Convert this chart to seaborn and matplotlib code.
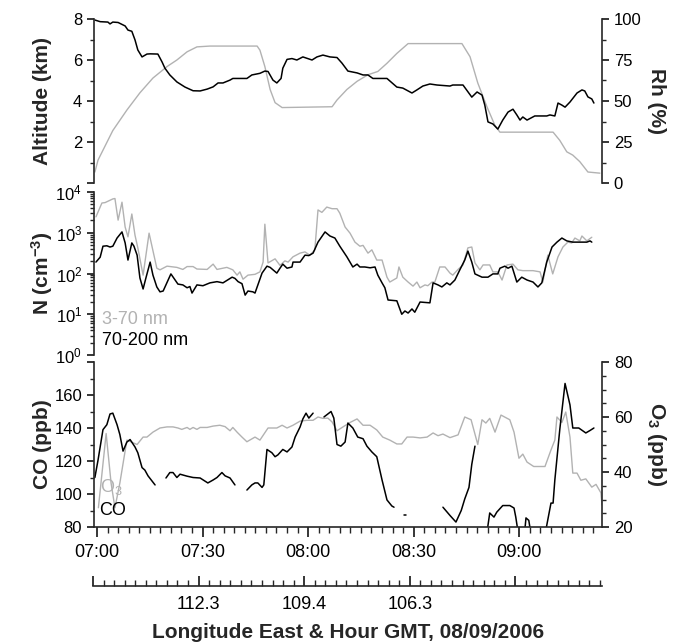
import numpy as np
import pandas as pd
import matplotlib
matplotlib.use("Agg")
import matplotlib.pyplot as plt
import seaborn as sns
from matplotlib.ticker import FixedLocator, MultipleLocator, FixedFormatter, NullFormatter, LogLocator

sns.set_style("ticks")
plt.rcParams["font.family"] = ["Liberation Sans", "DejaVu Sans"]
plt.rcParams["mathtext.default"] = "regular"

# ---------------- data (time in minutes after 07:00 GMT) ----------------
altitude_km = [(-0.6, 7.95), (0.9, 7.87), (3.1, 7.85), (3.7, 7.76), (4.5, 7.85), (6.0, 7.83), (8.0, 7.66),
               (8.8, 7.46), (9.9, 7.40), (10.8, 6.98), (11.6, 6.49), (12.8, 6.15), (14.2, 6.29), (15.1, 6.30),
               (17.3, 6.29), (18.5, 5.90), (19.3, 5.60), (20.7, 5.27), (22.7, 4.93), (25.0, 4.68), (27.3, 4.50),
               (29.3, 4.49), (31.3, 4.58), (33.0, 4.69), (34.4, 4.88), (35.8, 4.88), (37.8, 5.02), (38.6, 5.10),
               (42.6, 5.10), (44.0, 5.27), (46.3, 5.35), (47.7, 5.46), (48.6, 5.44), (50.0, 5.02), (51.1, 4.88),
               (52.3, 5.10), (52.8, 5.60), (54.0, 6.03), (55.4, 6.07), (56.8, 6.00), (58.5, 6.15), (61.1, 6.00),
               (62.5, 6.15), (64.2, 6.24), (66.2, 6.15), (68.2, 6.12), (69.6, 5.85), (71.3, 5.46), (73.9, 5.37),
               (75.6, 5.27), (77.0, 5.27), (78.4, 5.10), (82.4, 5.10), (85.2, 4.68), (86.9, 4.63), (89.5, 4.39),
               (90.9, 4.54), (92.6, 4.73), (94.6, 4.83), (96.6, 4.78), (100.3, 4.73), (101.1, 4.78), (104.0, 4.78),
               (106.5, 4.19), (108.0, 4.44), (109.4, 4.29), (110.2, 3.80), (111.1, 2.98), (112.5, 2.88),
               (113.9, 2.63), (115.3, 3.07), (116.8, 3.46), (118.2, 3.60), (119.3, 3.32), (120.2, 3.07),
               (121.0, 3.22), (122.2, 3.07), (124.4, 3.27), (127.8, 3.27), (128.7, 3.32), (130.1, 3.27),
               (131.0, 3.90), (132.1, 3.80), (133.0, 3.70), (134.4, 3.95), (136.4, 4.39), (137.8, 4.54),
               (138.6, 4.49), (139.5, 4.20), (140.6, 4.10), (141.2, 3.90)]

rh_pct = [(-0.6, 6.7), (0.3, 14), (1.7, 20), (4.5, 32), (8.5, 44.5), (12.2, 55), (15.9, 64), (19.9, 71),
          (22.7, 75), (25.6, 80), (28.4, 83), (32.1, 83.5), (45.5, 83.5), (46.3, 81), (47.7, 71), (49.2, 57),
          (50.6, 49), (52.6, 46), (66.8, 46.5), (68.2, 50.6), (71.0, 57), (73.9, 62), (77.0, 66), (79.8, 68),
          (82.4, 73), (85.2, 79), (88.4, 85), (103.7, 85), (106.0, 77), (108.2, 61), (110.8, 46.5),
          (113.1, 35), (114.5, 31), (129.6, 31), (131.5, 26), (133.5, 19), (135.2, 17), (137.2, 13),
          (139.5, 6.7), (142.9, 6)]

# particle number, log10(N / cm-3)
n_3_70_log10 = [(-0.3, 3.39), (1.4, 3.73), (2.3, 3.74), (4.5, 3.83), (5.1, 3.84), (6.0, 3.31), (7.1, 3.75),
                (8.0, 3.14), (8.8, 2.90), (9.9, 3.46), (10.8, 2.94), (11.6, 2.63), (13.1, 1.96), (14.8, 2.99),
                (17.0, 2.13), (17.9, 2.09), (19.9, 2.18), (22.7, 2.15), (24.4, 2.10), (25.6, 2.17), (27.3, 2.17),
                (28.4, 2.11), (31.3, 2.10), (33.0, 2.23), (34.1, 2.10), (36.9, 2.15), (38.6, 2.09), (39.8, 1.96),
                (40.6, 2.04), (41.5, 1.86), (42.9, 1.96), (44.9, 1.98), (46.3, 2.04), (47.2, 2.28), (47.7, 3.21),
                (48.6, 2.26), (50.6, 2.36), (52.0, 2.20), (53.4, 2.31), (54.3, 2.28), (55.7, 2.41), (57.7, 2.50),
                (59.1, 2.53), (60.5, 2.45), (61.9, 2.58), (62.8, 3.56), (63.9, 3.50), (65.3, 3.63), (66.8, 3.59),
                (68.2, 3.59), (69.0, 3.48), (70.5, 3.14), (71.9, 2.99), (73.3, 2.77), (74.7, 2.67), (75.6, 2.69),
                (77.0, 2.50), (78.1, 2.58), (79.5, 2.33), (81.0, 2.33), (82.4, 1.91), (83.2, 1.79), (85.2, 1.89),
                (85.8, 2.16), (86.9, 1.91), (88.4, 1.79), (89.8, 1.69), (90.9, 1.79), (91.8, 1.65), (93.2, 1.72),
                (94.0, 1.70), (95.2, 1.79), (96.0, 1.79), (97.4, 2.16), (98.9, 2.16), (100.3, 2.01), (101.1, 1.96),
                (102.6, 2.10), (104.0, 2.21), (105.4, 2.63), (106.5, 2.65), (107.4, 2.26), (108.8, 2.09),
                (109.7, 2.21), (111.6, 2.21), (112.5, 2.04), (113.9, 2.04), (115.1, 1.84), (116.5, 2.21),
                (118.2, 2.23), (119.6, 2.09), (121.0, 2.07), (123.9, 2.07), (125.9, 2.04), (126.7, 1.79),
                (128.1, 2.45), (129.5, 1.99), (131.0, 2.41), (132.4, 2.65), (133.8, 2.77), (134.9, 2.75),
                (135.8, 2.87), (137.2, 2.80), (137.8, 2.92), (139.2, 2.80), (140.6, 2.89)]

n_70_200_log10 = [(-0.3, 2.28), (0.9, 2.40), (1.7, 2.67), (2.8, 2.68), (3.7, 2.65), (4.5, 2.67), (5.7, 2.87),
                  (7.1, 3.02), (8.0, 2.75), (8.8, 2.33), (9.9, 2.75), (10.5, 2.67), (11.4, 2.45), (12.2, 1.89),
                  (13.1, 1.62), (13.9, 1.89), (15.1, 2.28), (15.9, 1.96), (17.0, 1.67), (17.9, 1.55), (18.8, 1.57),
                  (21.0, 1.99), (22.2, 1.84), (23.0, 1.74), (24.4, 1.72), (25.6, 1.65), (26.4, 1.68), (27.0, 1.52),
                  (28.4, 1.72), (30.1, 1.70), (32.1, 1.77), (34.1, 1.80), (35.8, 1.77), (38.4, 1.91), (39.2, 1.88),
                  (40.1, 1.80), (41.2, 1.75), (42.1, 1.47), (42.9, 1.57), (44.3, 1.55), (44.9, 1.52), (46.9, 2.01),
                  (48.3, 2.18), (49.2, 2.15), (51.1, 2.01), (52.0, 2.13), (52.8, 2.23), (54.0, 2.13), (55.4, 2.16),
                  (55.7, 2.28), (57.7, 2.28), (59.1, 2.45), (60.2, 2.44), (61.4, 2.50), (62.8, 2.77), (64.8, 3.02),
                  (66.2, 2.92), (67.6, 2.87), (69.0, 2.67), (71.0, 2.41), (72.7, 2.16), (73.9, 2.23), (74.7, 2.16),
                  (76.1, 2.16), (77.6, 2.14), (79.0, 2.16), (79.8, 1.96), (81.0, 1.77), (81.8, 1.65), (82.7, 1.35),
                  (85.2, 1.33), (86.6, 1.00), (87.5, 1.08), (88.4, 1.03), (89.5, 1.13), (90.3, 1.05), (91.8, 1.30),
                  (94.6, 1.28), (95.5, 1.77), (96.9, 1.72), (98.0, 1.67), (99.4, 1.77), (100.3, 1.72), (101.7, 1.84),
                  (103.1, 2.09), (104.5, 2.33), (105.4, 2.55), (106.5, 2.28), (107.4, 1.99), (109.4, 1.91),
                  (111.1, 1.91), (112.5, 1.99), (113.9, 1.99), (114.5, 2.13), (115.9, 2.18), (116.8, 2.13),
                  (117.9, 2.18), (119.3, 1.79), (120.7, 1.91), (122.2, 1.84), (123.9, 1.79), (125.3, 1.67),
                  (126.4, 1.77), (127.8, 2.28), (129.3, 2.65), (130.7, 2.77), (132.1, 2.87), (133.5, 2.80),
                  (135.2, 2.77), (137.2, 2.77), (139.2, 2.77), (140.1, 2.80), (140.6, 2.77)]

co_ppb_segments = [
    [(-0.6, 110), (0.3, 120.6), (1.7, 139), (2.8, 142), (3.7, 148.5), (4.5, 149), (5.7, 142), (6.5, 136),
     (7.4, 126), (8.5, 131.5), (9.4, 133), (10.8, 128.5), (11.6, 125), (12.8, 116), (13.6, 114.5), (14.5, 111),
     (16.5, 105.5)],
    [(19.6, 109.7), (20.7, 113), (21.6, 113), (22.7, 110), (23.6, 112), (25.6, 110.8), (27.3, 110), (29.3, 109.7),
     (31.5, 106.7), (33.0, 108.5), (34.1, 110), (35.5, 113), (36.4, 111), (37.8, 109.7), (39.2, 105.5)],
    [(42.6, 102.4), (44.0, 105.5), (44.9, 106.7), (45.7, 106.7), (46.9, 104), (47.4, 105.5), (48.3, 127),
     (49.7, 125), (50.6, 122.6), (51.4, 123.7), (52.8, 127), (54.0, 125.5), (55.4, 128.5), (56.3, 134.5),
     (57.7, 140.6), (58.5, 145.5), (59.4, 149), (60.2, 146), (61.4, 149)],
    [(64.5, 146.7), (65.3, 148), (66.5, 150), (67.3, 146), (68.2, 130), (69.3, 129), (70.5, 131.5), (71.3, 143),
     (72.7, 140), (74.1, 134.5), (75.6, 133.5), (76.7, 129), (78.1, 125.5), (79.5, 122.6), (81.0, 108.5),
     (82.4, 96.4), (83.8, 92.7), (84.4, 92)],
    [(87.3, 87), (87.8, 87)],
    [(98.3, 92), (100.3, 87), (102.0, 83), (103.5, 90), (104.5, 97), (105.7, 104), (106.5, 118), (107.4, 129)],
    [(110.5, 72), (111.6, 88.5), (112.8, 86), (113.6, 89), (115.3, 93), (117.3, 93), (118.5, 91.5), (119.0, 86),
     (120.0, 72), (121.3, 72), (121.9, 85.5), (122.7, 84), (123.6, 72), (127.0, 72), (129.0, 94.5),
     (129.6, 94.5), (130.1, 108.5), (131.5, 139), (133.0, 167), (134.4, 154), (135.2, 140), (136.9, 140),
     (138.9, 137), (140.1, 138.5), (141.2, 140)],
]

o3_ppb = [(0.4, 27), (2.6, 54), (4.0, 36), (5.1, 27), (6.5, 36), (8.5, 51.6), (11.4, 50), (13.1, 52.7),
          (14.2, 52.7), (15.9, 54.5), (17.9, 56), (19.9, 56.4), (21.6, 56.4), (23.0, 56), (24.1, 55.5),
          (25.6, 56.2), (26.4, 55.5), (27.3, 56.2), (28.4, 55.5), (29.3, 56.2), (31.3, 56.2), (33.0, 56.7),
          (34.9, 57), (36.4, 56.5), (37.8, 55), (38.6, 56.2), (39.8, 54.5), (41.2, 52.7), (42.6, 51),
          (44.9, 52.7), (46.3, 51.6), (48.6, 56), (51.1, 56), (52.6, 57), (54.0, 56), (55.7, 57), (57.7, 58.5),
          (59.7, 58.8), (61.4, 58.8), (62.8, 60), (64.2, 59.5), (65.6, 59.6), (66.8, 58.2), (68.2, 55),
          (69.9, 56.4), (71.9, 58), (73.9, 59.3), (75.6, 57), (77.6, 57), (79.5, 55.3), (81.2, 52.7),
          (83.2, 51.6), (85.2, 50.2), (86.6, 50.2), (88.1, 52.7), (89.8, 52.7), (91.8, 52.4), (93.8, 52.7),
          (95.5, 54.2), (96.9, 53.2), (98.3, 53.8), (100.3, 52.5), (102.6, 53.5), (104.5, 60), (106.3, 59),
          (108.2, 50), (109.4, 59), (110.5, 57.8), (111.6, 59.5), (113.1, 54.5), (114.8, 60.7), (117.3, 59),
          (118.5, 54.5), (119.9, 45), (121.0, 46.5), (122.2, 43.6), (124.1, 42), (127.3, 42), (129.0, 48),
          (130.1, 51.6), (130.7, 60), (132.1, 58), (133.2, 61.8), (134.4, 52.7), (135.2, 39.6), (136.4, 39.6),
          (137.5, 37), (138.9, 37.5), (140.6, 34.5), (141.8, 35.5), (143.2, 32.4), (143.5, 28)]

time_ticks = [0, 30, 60, 90, 120]
time_labels = ["07:00", "07:30", "08:00", "08:30", "09:00"]
lon_ticks = [-1.1, 28.9, 58.9, 88.9, 118.9]
lon_labels = ["", "112.3", "109.4", "106.3", ""]

# ---------------- layout ----------------
W_PX, H_PX = 674, 644
fig = plt.figure(figsize=(W_PX / 100, H_PX / 100), dpi=100)
L = 94 / W_PX
W = 508 / W_PX
ax1 = fig.add_axes([L, 1 - 183 / H_PX, W, 164 / H_PX])
ax2 = fig.add_axes([L, 1 - 355 / H_PX, W, 163 / H_PX])
ax3 = fig.add_axes([L, 1 - 527 / H_PX, W, 165 / H_PX])
axl = fig.add_axes([93 / W_PX, 1 - 586 / H_PX, 509 / W_PX, 1e-4])
ax1r = ax1.twinx()
ax3r = ax3.twinx()

GRAY = "#b2b2b2"
XLIM = (-0.85, 143.5)
TICK_FS = 12
LAB_FS = 15

def df(pairs, col="v"):
    return pd.DataFrame(pairs, columns=["t", col])

# top panel
sns.lineplot(data=df(rh_pct), x="t", y="v", ax=ax1r, color=GRAY, lw=1.0)
sns.lineplot(data=df(altitude_km), x="t", y="v", ax=ax1, color="black", lw=1.1)
ax1.set_zorder(ax1r.get_zorder() + 1)
ax1.patch.set_visible(False)

# middle panel
d_small = df(n_3_70_log10)
d_small["N"] = 10 ** d_small["v"]
d_large = df(n_70_200_log10)
d_large["N"] = 10 ** d_large["v"]
sns.lineplot(data=d_small, x="t", y="N", ax=ax2, color=GRAY, lw=1.0)
sns.lineplot(data=d_large, x="t", y="N", ax=ax2, color="black", lw=1.1)

# bottom panel
co_df = pd.concat([df(seg).assign(seg=i) for i, seg in enumerate(co_ppb_segments)], ignore_index=True)
sns.lineplot(data=df(o3_ppb), x="t", y="v", ax=ax3r, color=GRAY, lw=1.0)
sns.lineplot(data=co_df, x="t", y="v", units="seg", estimator=None, ax=ax3, color="black", lw=1.1)
ax3.set_zorder(ax3r.get_zorder() + 1)
ax3.patch.set_visible(False)

# ---------------- axes styling ----------------
for a in (ax1, ax1r, ax2, ax3, ax3r, axl):
    a.set_xlim(*XLIM)
    a.set_xlabel("")
    a.set_ylabel("")
    for s in a.spines.values():
        s.set_visible(False)
        s.set_linewidth(1.2)
    a.tick_params(which="major", length=5, width=1.1, direction="out", labelsize=TICK_FS, colors="black")
    a.tick_params(which="minor", length=3, width=1.0, direction="out")
    a.tick_params(axis="x", which="both", bottom=False, top=False, labelbottom=False, labeltop=False)
axl.set_xlim(-1.1, 143.5)

for a in (ax1, ax2, ax3):
    a.tick_params(axis="y", which="both", left=True, right=False, labelleft=True, labelright=False)
for a in (ax1r, ax3r):
    a.tick_params(axis="y", which="both", left=False, right=True, labelleft=False, labelright=True)

# top
ax1.spines["left"].set_visible(True)
ax1.set_ylim(0, 8)
ax1.yaxis.set_major_locator(FixedLocator([0, 2, 4, 6, 8]))
ax1.yaxis.set_major_formatter(FixedFormatter(["", "2", "4", "6", "8"]))
ax1.yaxis.set_minor_locator(MultipleLocator(1))
ax1r.spines["right"].set_visible(True)
ax1r.set_ylim(0, 100)
ax1r.yaxis.set_major_locator(FixedLocator([0, 25, 50, 75, 100]))
ax1r.yaxis.set_minor_locator(MultipleLocator(12.5))

# middle
ax2.spines["left"].set_visible(True)
ax2.set_yscale("log")
ax2.set_ylim(1, 1e4)
ax2.yaxis.set_major_locator(FixedLocator([1, 10, 100, 1000, 10000]))
ax2.yaxis.set_major_formatter(FixedFormatter(["$10^{0}$", "$10^{1}$", "$10^{2}$", "$10^{3}$", "$10^{4}$"]))
ax2.yaxis.set_minor_locator(LogLocator(base=10, subs=np.arange(2, 10), numticks=20))
ax2.yaxis.set_minor_formatter(NullFormatter())

# bottom
ax3.spines["left"].set_visible(True)
ax3.spines["bottom"].set_visible(True)
ax3.set_ylim(80, 180)
ax3.yaxis.set_major_locator(FixedLocator([80, 100, 120, 140, 160, 180]))
ax3.yaxis.set_major_formatter(FixedFormatter(["80", "100", "120", "140", "160", ""]))
ax3.yaxis.set_minor_locator(MultipleLocator(10))
ax3.xaxis.set_major_locator(FixedLocator(time_ticks))
ax3.xaxis.set_major_formatter(FixedFormatter(time_labels))
ax3.xaxis.set_minor_locator(MultipleLocator(3))
ax3.tick_params(axis="x", which="both", bottom=True, labelbottom=True)
ax3.tick_params(axis="x", which="major", length=7, pad=5, labelsize=13)
ax3.tick_params(axis="x", which="minor", length=4)
ax3r.spines["right"].set_visible(True)
ax3r.set_ylim(20, 80)
ax3r.yaxis.set_major_locator(FixedLocator([20, 40, 60, 80]))
ax3r.yaxis.set_minor_locator(MultipleLocator(5))

# longitude axis
axl.spines["bottom"].set_visible(True)
axl.patch.set_visible(False)
axl.set_yticks([])
axl.tick_params(axis="y", which="both", left=False, right=False, labelleft=False)
axl.xaxis.set_major_locator(FixedLocator(lon_ticks))
axl.xaxis.set_major_formatter(FixedFormatter(lon_labels))
axl.xaxis.set_minor_locator(FixedLocator(np.arange(-1.1, 143.6, 3.0)))
axl.tick_params(axis="x", which="both", bottom=True, labelbottom=True)
axl.tick_params(axis="x", which="major", direction="in", length=7, pad=7, labelsize=13)
axl.tick_params(axis="x", which="minor", direction="in", length=4)

# labels
lab = dict(fontsize=LAB_FS, fontweight="bold")
ax1.set_ylabel("Altitude (km)", va="center", **lab)
ax2.set_ylabel("N (cm$^{-3}$)", va="center", **lab)
ax3.set_ylabel("CO (ppb)", va="center", **lab)
ax1r.set_ylabel("Rh (%)", rotation=270, va="center", **lab)
ax3r.set_ylabel("O$_3$ (ppb)", rotation=270, va="center", **lab)
for a in (ax1, ax2, ax3):
    a.yaxis.set_label_coords(-0.102, 0.5)
for a in (ax1r, ax3r):
    a.yaxis.set_label_coords(1.108, 0.5)

ax2.text(0.016, 0.215, "3-70 nm", transform=ax2.transAxes, color=GRAY, fontsize=13, va="center", ha="left")
ax2.text(0.016, 0.092, "70-200 nm", transform=ax2.transAxes, color="black", fontsize=13, va="center", ha="left")
ax3.text(0.012, 0.242, "O$_3$", transform=ax3.transAxes, color=GRAY, fontsize=13, va="center", ha="left")
ax3.text(0.010, 0.097, "CO", transform=ax3.transAxes, color="black", fontsize=13, va="center", ha="left")

fig.text((94 + 602) / 2 / W_PX, 1 - 632 / H_PX, "Longitude East & Hour GMT, 08/09/2006",
         fontsize=15, fontweight="bold", ha="center", va="center")

fig.savefig("out.png", dpi=100)
